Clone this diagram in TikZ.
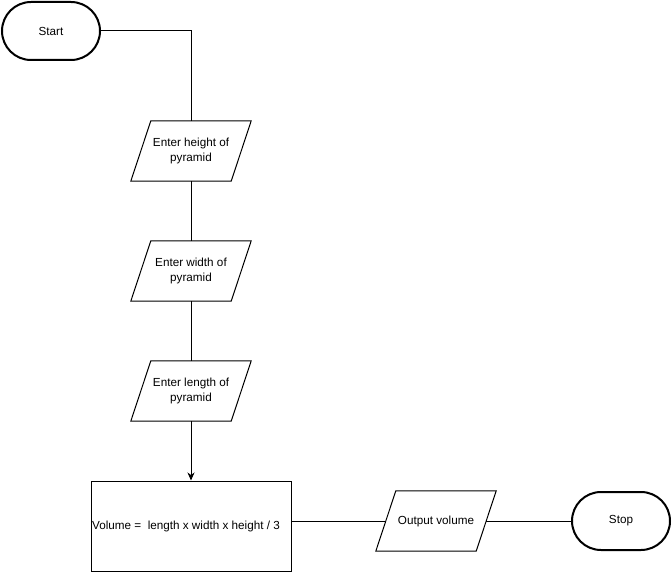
\documentclass[tikz,border=0pt]{standalone}
\usepackage{fontspec}
\setmainfont{Liberation Sans}
\usetikzlibrary{arrows.meta}
\begin{document}
\begin{tikzpicture}[x=1pt,y=-1pt,
  every node/.style={font=\fontsize{11.7}{14.5}\selectfont, align=center, inner sep=0pt},
  terminal/.style={draw, line width=2pt, rounded corners=29pt, minimum width=98pt, minimum height=58pt},
  iobox/.style={minimum width=100pt, minimum height=60pt},
  procbox/.style={draw, line width=1pt, minimum width=200pt, minimum height=90pt},
  link/.style={line width=1pt},
  arrowlink/.style={line width=1pt, -{Stealth[length=8pt,width=7pt,inset=2.5pt]}}]
\useasboundingbox (0,0) rectangle (672,572);

% start and stop terminals
\node[terminal] (start) at (51,31) {Start};
\node[terminal] (stop) at (621,521) {Stop};

% input / output boxes (outline drawn below)
\node[iobox] (hgt) at (191,151) {Enter height of\\pyramid};
\node[iobox] (wid) at (191,271) {Enter width of\\pyramid};
\node[iobox] (len) at (191,391) {Enter length of\\pyramid};
\node[iobox] (out) at (436,521) {Output volume};

% calculation step
\node[procbox] (calc) at (191,526) {Volume =\ \ length x width x height / 3\hspace*{10pt}};

% parallelogram outlines
\foreach \n in {hgt,wid,len,out}
  \draw[line width=1pt] ([xshift=10pt]\n.north west) -- ([xshift=10pt]\n.north east)
    -- ([xshift=-10pt]\n.south east) -- ([xshift=-10pt]\n.south west) -- cycle;

% connectors
\draw[link] (start.east) -| (hgt.north);
\draw[link] (hgt.south) -- (wid.north);
\draw[link] (wid.south) -- (len.north);
\draw[arrowlink] (len.south) -- (calc.north);
\draw[link] (calc.east |- out.west) -- (out.west);
\draw[link] (out.east) -- (stop.west);
\end{tikzpicture}
\end{document}
